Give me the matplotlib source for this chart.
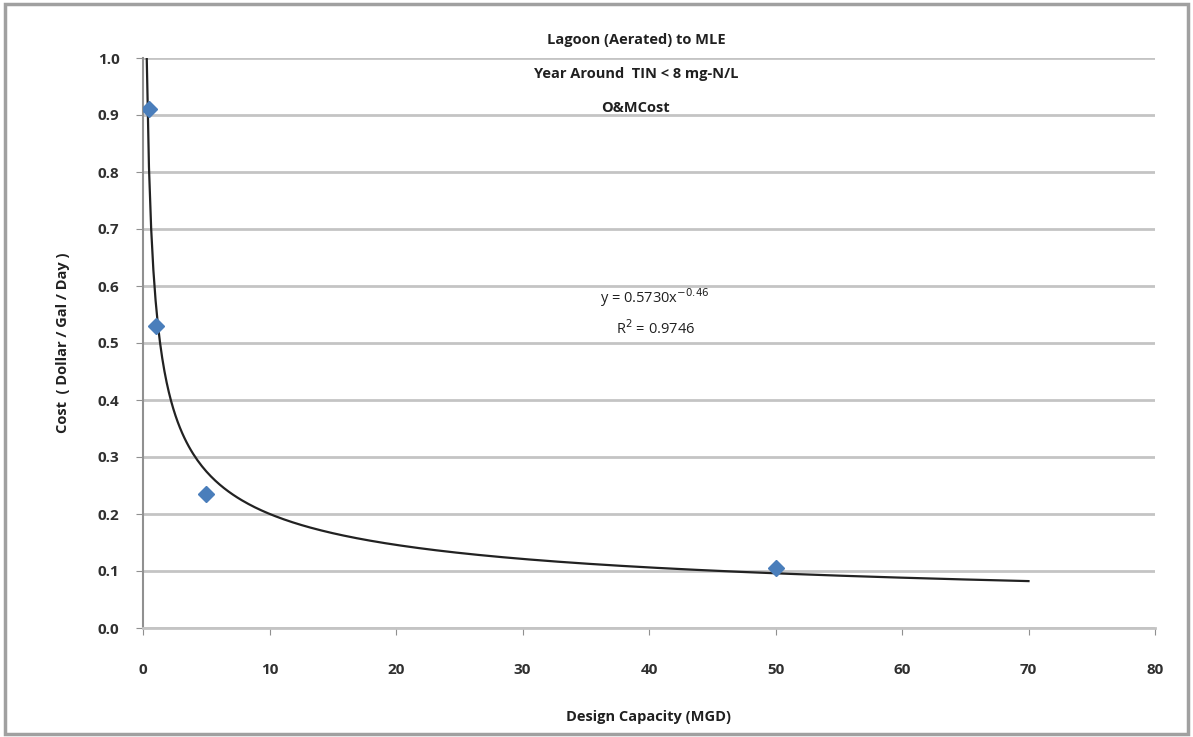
import numpy as np
import matplotlib
matplotlib.use("Agg")
import matplotlib.pyplot as plt
from matplotlib.patches import Rectangle

plt.rcParams['font.family'] = ['Open Sans', 'DejaVu Sans']

# data
capacity_mgd = [0.5, 1, 5, 50]
cost_per_gal = [0.91, 0.53, 0.235, 0.105]
x_ticks = [0, 10, 20, 30, 40, 50, 60, 70, 80]
y_ticks = [0.0, 0.1, 0.2, 0.3, 0.4, 0.5, 0.6, 0.7, 0.8, 0.9, 1.0]
title_lines = ["Lagoon (Aerated) to MLE", "Year Around  TIN < 8 mg-N/L", "O&MCost"]
equation_text = "y = 0.5730x$^{-0.46}$"
r2_text = "R$^2$ = 0.9746"

# power trendline fitted like Excel does (log-log least squares)
b, log_a = np.polyfit(np.log(capacity_mgd), np.log(cost_per_gal), 1)
a = np.exp(log_a)
x_fit = np.linspace((1.0 / a) ** (1.0 / b), 70, 400)
y_fit = a * x_fit ** b

fig = plt.figure(figsize=(11.93, 7.37), dpi=100)
fig.patches.append(Rectangle((0.004, 0.004), 0.992, 0.990, transform=fig.transFigure,
                             fill=False, edgecolor="#a0a0a0", linewidth=2.5))

ax = fig.add_axes([143 / 1193, 1 - 628 / 737, (1155 - 143) / 1193, (628 - 58) / 737])
ax.set_xlim(0, 80)
ax.set_ylim(0, 1.0)
ax.set_xticks(x_ticks)
ax.set_yticks(y_ticks)
ax.set_xticklabels([str(t) for t in x_ticks], fontsize=11, fontweight="bold", color="#303030")
ax.set_yticklabels(["%.1f" % t for t in y_ticks], fontsize=11, fontweight="bold", color="#303030")
ax.tick_params(axis="both", direction="out", length=5, color="#909090")
ax.tick_params(axis="x", pad=20)
ax.tick_params(axis="y", pad=12)
ax.yaxis.grid(True, color="#c4c4c4", linewidth=2)
ax.set_axisbelow(True)
for side in ["top", "right"]:
    ax.spines[side].set_visible(False)
ax.spines["left"].set_color("#909090")
ax.spines["left"].set_linewidth(1.5)
ax.spines["bottom"].set_color("#c4c4c4")
ax.spines["bottom"].set_linewidth(2)

ax.plot(x_fit, y_fit, color="#222222", linewidth=1.6, zorder=3)
ax.plot(capacity_mgd, cost_per_gal, linestyle="none", marker="D", markersize=8,
        color="#4a7ebb", zorder=4)

for i, line in enumerate(title_lines):
    fig.text(0.533, 1 - (40 + 34 * i) / 737, line, ha="center", va="center",
             fontsize=10.5, fontweight="bold", color="#202020")

ax.text(0.506, 0.580, equation_text, transform=ax.transAxes,
        ha="center", va="center", fontsize=10.5, color="#202020")
ax.text(0.506, 0.526, r2_text, transform=ax.transAxes,
        ha="center", va="center", fontsize=10.5, color="#202020")

ax.set_xlabel("Design Capacity (MGD)", fontsize=10.5, fontweight="bold", color="#202020", labelpad=24)
ax.set_ylabel("Cost  ( Dollar / Gal / Day )", fontsize=10.5, fontweight="bold", color="#202020", labelpad=20)

fig.savefig("out.png", dpi=100)
